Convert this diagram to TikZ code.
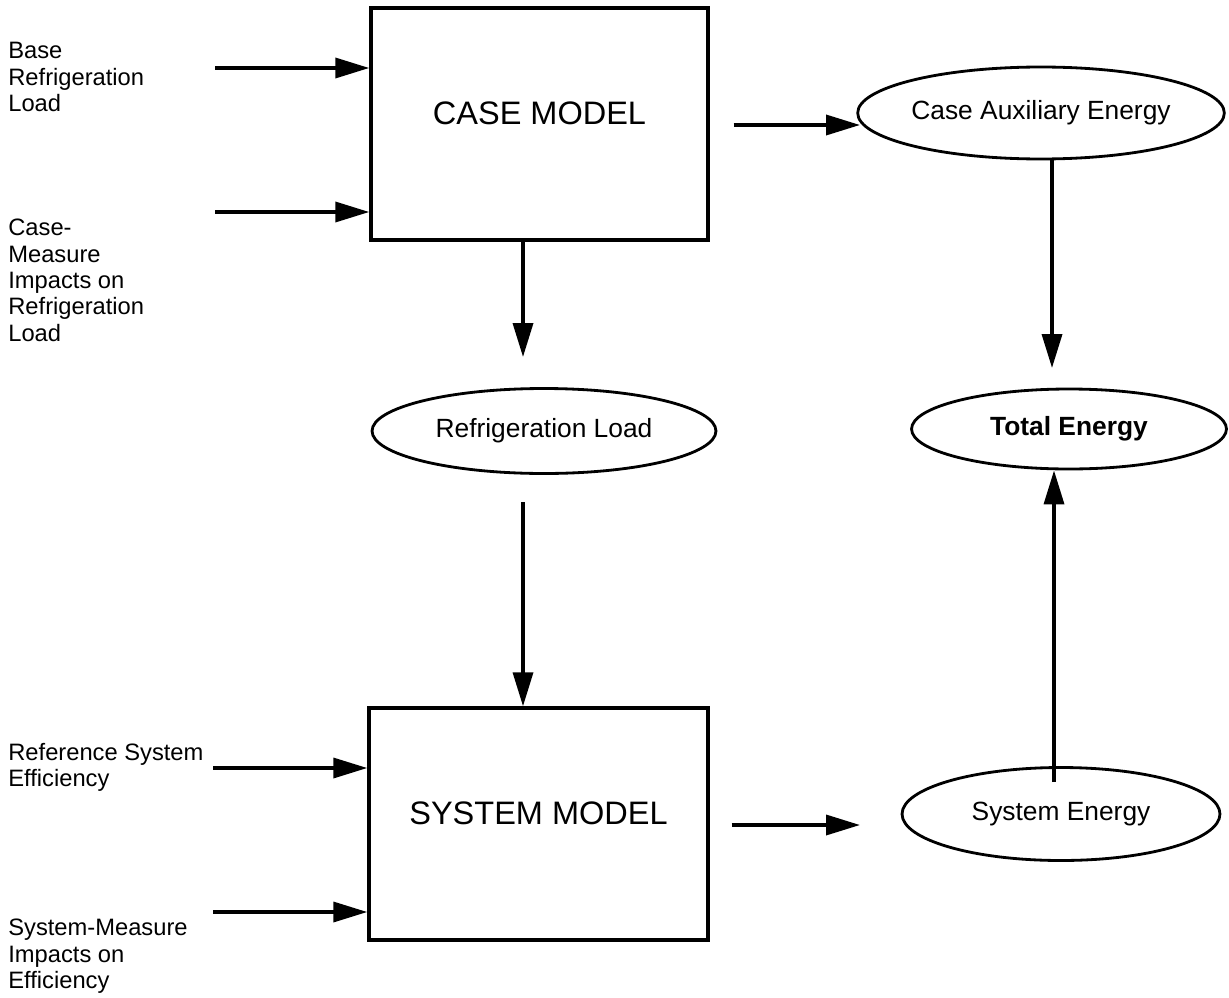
\documentclass[tikz,border=0pt]{standalone}
\usepackage{fontspec}
\setmainfont{Liberation Sans}
\usetikzlibrary{shapes.geometric,arrows.meta}

\begin{document}
\begin{tikzpicture}[x=0.02cm,y=-0.02cm,
   model/.style={draw,line width=2pt,inner sep=0pt,text depth=0.44cm,font=\fontsize{18.5}{20}\selectfont},
   quantity/.style={draw,ellipse,line width=1.6pt,inner sep=0pt,font=\fontsize{15}{17}\selectfont},
   inlabel/.style={anchor=north west,align=left,inner sep=0pt,font=\fontsize{13.5}{15}\selectfont},
   arr/.style={line width=2pt,-{Triangle[length=0.68cm,width=0.4cm]}}]
   \useasboundingbox (0,0) rectangle (1229,997);

   \path (539.5,124) node[model,minimum width=6.74cm,minimum height=4.64cm] (case) {CASE MODEL};
   \path (538.5,824) node[model,minimum width=6.78cm,minimum height=4.64cm] (system) {SYSTEM MODEL};

   \path (544,431) node[quantity,minimum width=6.88cm,minimum height=1.7cm] (refload) {Refrigeration Load};
   \path (1041,113) node[quantity,minimum width=6.26cm,minimum height=1.84cm] (auxen) {Case Auxiliary Energy};
   \path (1061,814) node[quantity,minimum width=6.36cm,minimum height=1.86cm] (sysen) {System Energy};
   \path (1069,429) node[quantity,minimum width=6.3cm,minimum height=1.6cm,font=\fontsize{15}{17}\selectfont\bfseries] (toten) {Total Energy};

   \path (8,42) node[inlabel] (baseload) {Base\\Refrigeration\\Load};
   \path (8,219) node[inlabel] (casemeas) {Case-\\Measure\\Impacts on\\Refrigeration\\Load};
   \path (8,743) node[inlabel] (refeff) {Reference System\\Efficiency};
   \path (8,919) node[inlabel] (sysmeas) {System-Measure\\Impacts on\\Efficiency};

   \coordinate (in1) at (215,68);
   \coordinate (in2) at (215,212);
   \coordinate (in3) at (213,768);
   \coordinate (in4) at (213,912);
   \coordinate (out1) at (860,125);
   \coordinate (out2) at (860,825);
   \coordinate (down1) at (523,357);
   \coordinate (down2) at (523,502);
   \coordinate (right1) at (1052,368);
   \coordinate (right2) at (1054,782);

   \draw[arr] (in1) -- (case.west |- in1);
   \draw[arr] (in2) -- (case.west |- in2);
   \draw[arr] (in3) -- (system.west |- in3);
   \draw[arr] (in4) -- (system.west |- in4);
   \draw[arr,shorten <=0.48cm] (case.east |- out1) -- (out1);
   \draw[arr,shorten <=0.44cm] (system.east |- out2) -- (out2);
   \draw[arr] (case.south -| down1) -- (down1);
   \draw[arr] (down2) -- (system.north -| down2);
   \draw[arr] (auxen.south -| right1) -- (right1);
   \draw[arr] (right2) -- (toten.south -| right2);
\end{tikzpicture}
\end{document}
